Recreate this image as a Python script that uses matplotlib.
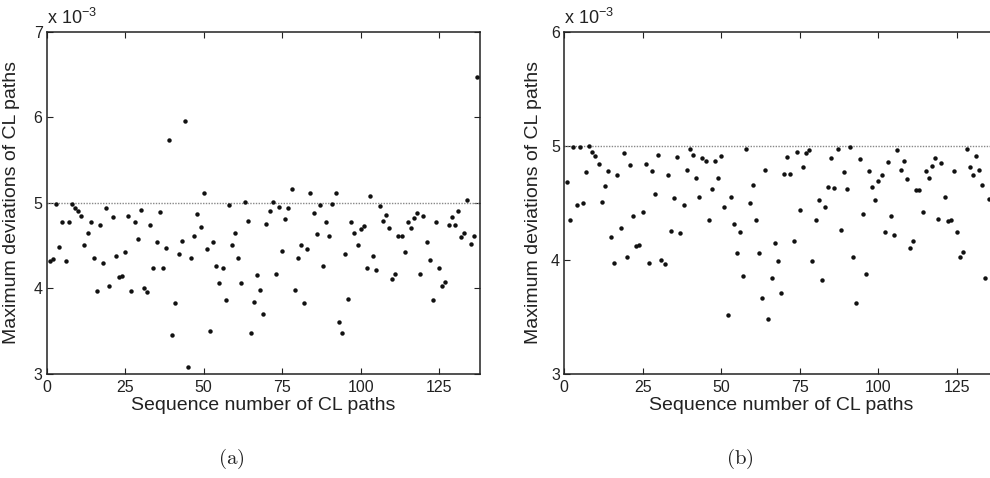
import numpy as np
import matplotlib
matplotlib.use("Agg")
import matplotlib.pyplot as plt

plt.rcParams['font.family'] = ['Liberation Sans', 'DejaVu Sans']
plt.rcParams['mathtext.fontset'] = 'custom'
plt.rcParams['mathtext.rm'] = 'Liberation Sans'
plt.rcParams['mathtext.it'] = 'Liberation Sans:italic'

# ---------------- data (values in units of 1e-3) ----------------
dev_a = [4.32, 4.34, 4.99, 4.48, 4.77, 4.32, 4.77, 4.99, 4.94, 4.90,
         4.84, 4.51, 4.65, 4.78, 4.35, 3.97, 4.74, 4.29, 4.94, 4.02,
         4.83, 4.38, 4.13, 4.14, 4.42, 4.84, 3.97, 4.78, 4.58, 4.92,
         4.00, 3.96, 4.74, 4.24, 4.54, 4.89, 4.23, 4.47, 5.73, 3.45,
         3.83, 4.40, 4.55, 5.96, 3.08, 4.35, 4.61, 4.87, 4.72, 5.12,
         4.46, 3.50, 4.54, 4.26, 4.06, 4.24, 3.86, 4.97, 4.50, 4.65,
         4.35, 4.06, 5.01, 4.79, 3.48, 3.84, 4.15, 3.98, 3.70, 4.75,
         4.90, 5.01, 4.16, 4.95, 4.44, 4.81, 4.94, 5.16, 3.98, 4.35,
         4.51, 3.82, 4.46, 5.12, 4.88, 4.63, 4.97, 4.26, 4.77, 4.61,
         4.99, 5.12, 3.60, 3.47, 4.40, 3.87, 4.78, 4.64, 4.51, 4.69,
         4.73, 4.24, 5.08, 4.38, 4.21, 4.96, 4.79, 4.86, 4.71, 4.11,
         4.17, 4.61, 4.61, 4.42, 4.78, 4.71, 4.82, 4.88, 4.16, 4.84,
         4.54, 4.33, 3.86, 4.77, 4.23, 4.02, 4.07, 4.74, 4.83, 4.74,
         4.90, 4.60, 4.65, 5.03, 4.52, 4.61, 6.47]

dev_b = [4.68, 4.35, 4.99, 4.48, 4.99, 4.50, 4.77, 5.00, 4.95, 4.91,
         4.84, 4.51, 4.65, 4.78, 4.20, 3.97, 4.74, 4.28, 4.94, 4.02,
         4.83, 4.38, 4.12, 4.13, 4.42, 4.84, 3.97, 4.78, 4.58, 4.92,
         4.00, 3.96, 4.74, 4.25, 4.54, 4.90, 4.23, 4.48, 4.79, 4.97,
         4.92, 4.72, 4.55, 4.89, 4.87, 4.35, 4.62, 4.87, 4.72, 4.91,
         4.46, 3.51, 4.55, 4.31, 4.06, 4.24, 3.86, 4.97, 4.50, 4.66,
         4.35, 4.06, 3.66, 4.79, 3.48, 3.84, 4.15, 3.99, 3.71, 4.75,
         4.90, 4.75, 4.16, 4.95, 4.44, 4.81, 4.94, 4.96, 3.99, 4.35,
         4.52, 3.82, 4.46, 4.64, 4.89, 4.63, 4.97, 4.26, 4.77, 4.62,
         4.99, 4.02, 3.62, 4.88, 4.40, 3.87, 4.78, 4.64, 4.52, 4.69,
         4.74, 4.24, 4.86, 4.38, 4.22, 4.96, 4.79, 4.87, 4.71, 4.10,
         4.16, 4.61, 4.61, 4.42, 4.78, 4.72, 4.82, 4.89, 4.36, 4.85,
         4.55, 4.34, 4.35, 4.78, 4.24, 4.02, 4.07, 4.97, 4.81, 4.74,
         4.91, 4.79, 4.66, 3.84, 4.53, 4.62]

seq_a = np.arange(1, len(dev_a) + 1)
seq_b = np.arange(1, len(dev_b) + 1)
threshold = 5.0
xticks = [0, 25, 50, 75, 100, 125]
yticks_a = [3, 4, 5, 6, 7]
yticks_b = [3, 4, 5, 6]
xlabel = "Sequence number of CL paths"
ylabel = "Maximum deviations of CL paths"

W, H = 990, 478
fig = plt.figure(figsize=(W / 100, H / 100), dpi=100)

def px_axes(left, top, right, bottom):
    return fig.add_axes([left / W, 1 - bottom / H, (right - left) / W, (bottom - top) / H])

ax_a = px_axes(46.7, 32, 480, 373.5)
ax_b = px_axes(564, 32, 998, 373.5)

spine_c = '#222222'
for ax, seq, dev, ylim, yt, ylab_x in [
        (ax_a, seq_a, dev_a, (3, 7), yticks_a, -0.062),
        (ax_b, seq_b, dev_b, (3, 6), yticks_b, -0.05)]:
    ax.plot(seq, dev, 'o', color='#111111', ms=3.2, mec='none', zorder=3, clip_on=False)
    ax.axhline(threshold, color='#888888', ls=(0, (1, 1)), lw=1.0, zorder=2)
    ax.set_xlim(0, 138)
    ax.set_ylim(*ylim)
    ax.set_xticks(xticks)
    ax.set_yticks(yt)
    ax.tick_params(direction='in', top=True, right=True, length=4, width=0.8,
                   labelsize=11.5, colors=spine_c, pad=5)
    ax.tick_params(axis='y', pad=3)
    for s in ax.spines.values():
        s.set_linewidth(1.1)
        s.set_color(spine_c)
    ax.set_xlabel(xlabel, fontsize=14, color=spine_c, labelpad=1)
    ax.set_ylabel(ylabel, fontsize=14, color=spine_c)
    ax.yaxis.set_label_coords(ylab_x, 0.5)
    ax.text(0.0, 1.012, r'x 10$^{-3}$', transform=ax.transAxes, fontsize=13,
            color=spine_c, ha='left', va='bottom')

fig.text(231 / W, 1 - 459 / H, r'$\mathrm{(a)}$', fontsize=15, ha='center', va='center',
         math_fontfamily='cm', color='#222222')
fig.text(740 / W, 1 - 459 / H, r'$\mathrm{(b)}$', fontsize=15, ha='center', va='center',
         math_fontfamily='cm', color='#222222')

fig.savefig('out.png', dpi=100)
